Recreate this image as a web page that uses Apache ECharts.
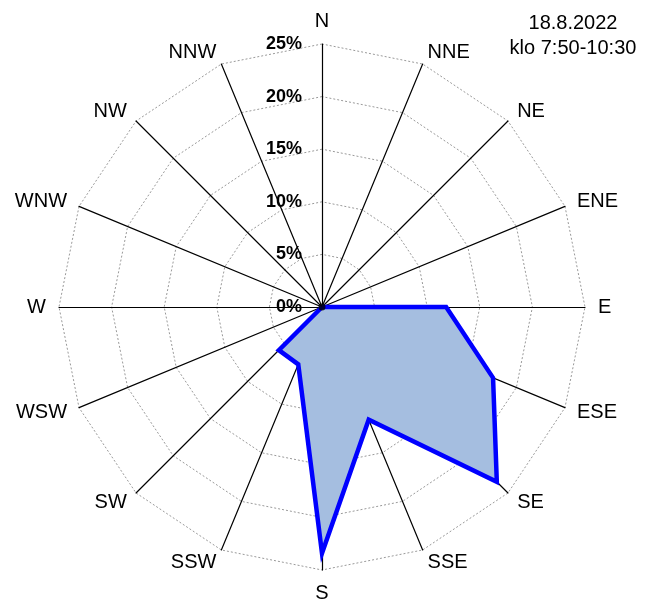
<!DOCTYPE html>
<html><head><meta charset="utf-8">
<script src="https://cdn.jsdelivr.net/npm/echarts@6/dist/echarts.min.js"></script>
<style>html,body{margin:0;padding:0;background:#fff}#c{width:661px;height:601px}</style>
</head><body><div id="c"></div>
<script>
// directions clockwise from North
const directions = ['N','NNE','NE','ENE','E','ESE','SE','SSE','S','SSW','SW','WSW','W','WNW','NW','NNW'];
const frequency = [0,0,0,0,11.8,17.6,23.5,11.6,23.4,5.9,5.8,0,0,0,0,0];
const ringTicks = [0,5,10,15,20,25];
const titleLines = ['18.8.2022','klo 7:50-10:30'];

// radar goes counter-clockwise: reverse order after N
const order = [0].concat(directions.map((d,i)=>i).slice(1).reverse());
const maxV = ringTicks[ringTicks.length-1];
const center = [322, 307];
const radius = 263;
const font = 'Liberation Sans, Arial, sans-serif';
const vals = order.map(i=>frequency[i]);

const chart = echarts.init(document.getElementById('c'));
chart.setOption({
  animation:false,
  graphic: titleLines.map((t,k)=>({type:'text', x:573, y:23+k*25,
    style:{text:t, fontFamily:font, fontSize:20, fill:'#000', textAlign:'center', textVerticalAlign:'middle'}})),
  radar:{
    center:center, radius:radius, startAngle:90, shape:'polygon', splitNumber:5,
    indicator: order.map(i=>({name:directions[i], min:0, max:maxV})),
    axisName:{color:'#000',fontFamily:font,fontSize:20},
    nameGap:13,
    splitLine:{lineStyle:{color:'#999',type:[2,2],width:1}},
    splitArea:{show:false},
    axisLine:{lineStyle:{color:'#000',width:1.2}}
  },
  polar:{center:center, radius:radius},
  angleAxis:{type:'value',startAngle:90,min:0,max:360,show:false},
  radiusAxis:{type:'value',min:0,max:maxV,interval:5,
    axisLine:{show:false},axisTick:{show:false},splitLine:{show:false},
    axisLabel:{formatter:'{value}%',fontFamily:font,fontSize:18,fontWeight:'bold',color:'#000',margin:20,verticalAlign:'middle'}},
  series:[{
    type:'radar', symbol:'none', silent:true,
    lineStyle:{width:0,opacity:0},
    areaStyle:{color:'#a5bee0',opacity:1},
    data:[{value: vals}],
    z:2
  },{
    type:'radar', symbol:'none', silent:true,
    lineStyle:{color:'#0000ff',width:4.5,join:'miter'},
    data:[{value: vals}],
    z:3
  },{
    type:'scatter', coordinateSystem:'polar', data:[[0,0]], symbolSize:7,
    itemStyle:{color:'#000'}, z:5, silent:true
  }]
});
</script></body></html>
